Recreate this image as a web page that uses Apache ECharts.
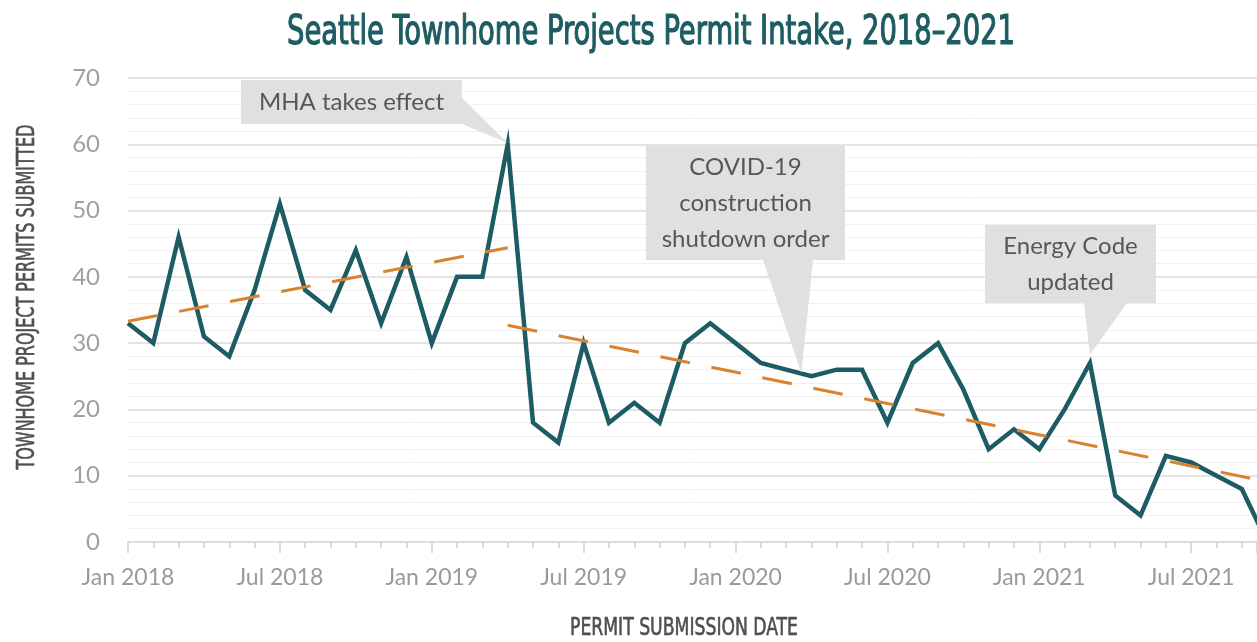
<!DOCTYPE html>
<html>
<head>
<meta charset="utf-8">
<title>Seattle Townhome Projects Permit Intake</title>
<script src="https://cdn.jsdelivr.net/npm/echarts@6/dist/echarts.min.js"></script>
<style>
  html, body { margin: 0; padding: 0; background: #fff; }
  #chart { width: 1257px; height: 642px; }
</style>
</head>
<body>
<div id="chart"></div>
<script>
// monthly permit counts, Jan 2018 .. Oct 2021
const permits = [
  33, 30, 46, 31, 28, 38, 51, 38, 35, 44, 33, 43,
  30, 40, 40, 60, 18, 15, 30, 18, 21, 18, 30, 33,
  30, 27, 26, 25, 26, 26, 18, 27, 30, 23, 14, 17,
  14, 20, 27, 7, 4, 13, 12, 10, 8, 0
];
// x tick labels, one per 6 months
const tickLabels = ['Jan 2018', 'Jul 2018', 'Jan 2019', 'Jul 2019', 'Jan 2020', 'Jul 2020', 'Jan 2021', 'Jul 2021'];
// trend lines [monthIndex, value]
const trendBefore = [[0, 33.3], [15, 44.4]];
const trendAfter = [[15, 32.7], [45, 9.1]];
// annotation texts and the points they refer to
const notes = [
  {text: 'MHA takes effect', at: [15, 60.2]},
  {text: 'COVID-19\nconstruction\nshutdown order', at: [26.6, 25.5]},
  {text: 'Energy Code\nupdated', at: [38, 28.3]}
];

const TEAL = '#1d5c62';
const ORANGE = '#d9822f';
const LABEL_FONT = 'Lato, "Open Sans", sans-serif';
const COND_FONT = '"DejaVu Sans Condensed", "Liberation Sans Narrow", sans-serif';

const ctx = document.createElement('canvas').getContext('2d');
function fitScale(text, font, width) {
  ctx.font = font;
  return width / ctx.measureText(text).width;
}

const chart = echarts.init(document.getElementById('chart'));

chart.setOption({
  animation: false,
  grid: {left: 128, right: 0, top: 78, bottom: 100},
  xAxis: {
    type: 'value',
    min: 0,
    max: 44.6,
    interval: 6,
    splitLine: {show: false},
    axisLine: {show: true, lineStyle: {color: '#dcdcdc', width: 2}},
    axisTick: {show: true, length: 11, lineStyle: {color: '#d0d0d0', width: 1.5}},
    minorTick: {show: true, splitNumber: 6, length: 6, lineStyle: {color: '#d0d0d0', width: 1.5}},
    axisLabel: {
      showMaxLabel: false,
      margin: 24,
      fontFamily: LABEL_FONT,
      fontSize: 23,
      color: '#9a9a9a',
      formatter(v) {
        return tickLabels[Math.round(v / 6)] || '';
      }
    }
  },
  yAxis: {
    type: 'value',
    min: 0,
    max: 70,
    interval: 10,
    axisLine: {show: false},
    axisTick: {show: false},
    splitLine: {lineStyle: {color: '#e4e4e4', width: 2}},
    minorTick: {show: false, splitNumber: 5},
    minorSplitLine: {show: true, lineStyle: {color: '#f0f0f0', width: 1}},
    axisLabel: {
      margin: 28,
      fontFamily: LABEL_FONT,
      fontSize: 24,
      color: '#a0a0a0'
    }
  },
  series: [
    {
      type: 'line',
      data: permits.map((v, i) => [i, v]),
      symbol: 'none',
      clip: true,
      lineStyle: {color: TEAL, width: 4.5, join: 'miter'},
      z: 3
    },
    {
      type: 'line',
      data: trendBefore,
      symbol: 'none',
      lineStyle: {color: ORANGE, width: 3, type: [30, 22]},
      z: 4
    },
    {
      type: 'line',
      data: trendAfter,
      symbol: 'none',
      clip: true,
      lineStyle: {color: ORANGE, width: 3, type: [30, 22]},
      z: 4
    }
  ]
});

// annotation boxes (pixel layout), pointer tips come from the data coords
const boxes = [
  {x: 241, y: 80, w: 221, h: 44, base: [[462, 98], [462, 124]]},
  {x: 646, y: 146, w: 199, h: 114, base: [[763, 260], [813, 260]]},
  {x: 985, y: 225, w: 171, h: 78, base: [[1084, 303], [1127, 303]]}
];

const graphics = [];
notes.forEach((n, i) => {
  const b = boxes[i];
  const tip = chart.convertToPixel({gridIndex: 0}, n.at);
  graphics.push({
    type: 'polygon',
    shape: {points: [b.base[0], b.base[1], tip]},
    style: {fill: '#e0e0e0'},
    z: 10
  });
  graphics.push({
    type: 'rect',
    shape: {x: b.x, y: b.y, width: b.w, height: b.h},
    style: {fill: '#e0e0e0'},
    z: 10
  });
  graphics.push({
    type: 'text',
    x: b.x + b.w / 2,
    y: b.y + b.h / 2,
    style: {
      text: n.text,
      font: '24px ' + LABEL_FONT,
      fill: '#575757',
      textAlign: 'center',
      verticalAlign: 'middle',
      lineHeight: 36
    },
    z: 11
  });
});

// title and axis names in a condensed face, slightly stroked for a medium weight
const title = 'Seattle Townhome Projects Permit Intake, 2018\u20132021';
const titleFont = '40px ' + COND_FONT;
graphics.push({
  type: 'text',
  x: 651, y: 34,
  scaleX: fitScale(title, titleFont, 728),
  style: {text: title, font: titleFont, fill: TEAL, stroke: TEAL, lineWidth: 1.2, textAlign: 'center', verticalAlign: 'middle'}
});

const yName = 'TOWNHOME PROJECT PERMITS SUBMITTED';
const yFont = '24px ' + COND_FONT;
graphics.push({
  type: 'text',
  x: 28, y: 297,
  rotation: Math.PI / 2,
  scaleX: fitScale(yName, yFont, 345),
  style: {text: yName, font: yFont, fill: '#4f4f4f', stroke: '#4f4f4f', lineWidth: 0.6, textAlign: 'center', verticalAlign: 'middle'}
});

const xName = 'PERMIT SUBMISSION DATE';
const xFont = '24px ' + COND_FONT;
graphics.push({
  type: 'text',
  x: 684, y: 629,
  scaleX: fitScale(xName, xFont, 228),
  style: {text: xName, font: xFont, fill: '#4f4f4f', stroke: '#4f4f4f', lineWidth: 0.6, textAlign: 'center', verticalAlign: 'middle'}
});

chart.setOption({graphic: graphics});
</script>
</body>
</html>
